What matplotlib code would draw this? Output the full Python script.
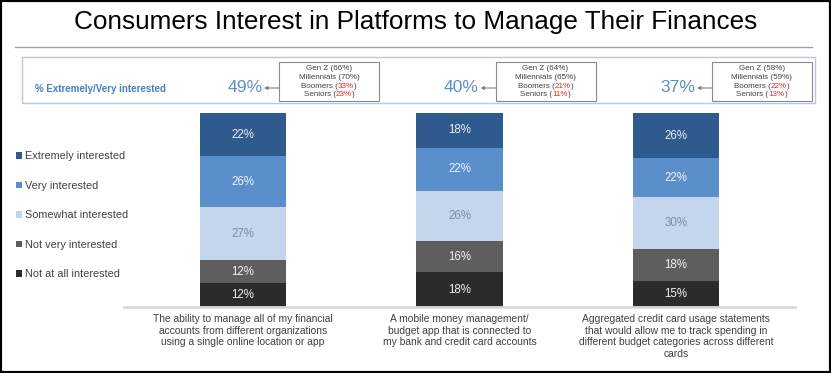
import numpy as np
import matplotlib
matplotlib.use("Agg")
import matplotlib.pyplot as plt
from matplotlib import font_manager
from matplotlib.patches import Rectangle

categories = [
    "The ability to manage all of my financial\naccounts from different organizations\nusing a single online location or app",
    "A mobile money management/\nbudget app that is connected to\nmy bank and credit card accounts",
    "Aggregated credit card usage statements\nthat would allow me to track spending in\ndifferent budget categories across different\ncards",
]
levels = ["Extremely interested", "Very interested", "Somewhat interested",
          "Not very interested", "Not at all interested"]
extremely = [22, 18, 26]
very = [26, 22, 22]
somewhat = [27, 26, 30]
not_very = [12, 16, 18]
not_at_all = [12, 18, 15]

top2 = [49, 40, 37]
gen_z = [66, 64, 58]
millennials = [70, 65, 59]
boomers = [33, 21, 22]
seniors = [23, 11, 13]

plt.rcParams['font.family'] = ['Liberation Sans', 'DejaVu Sans']
names = {f.name for f in font_manager.fontManager.ttflist}
title_font = 'Liberation Sans Narrow' if 'Liberation Sans Narrow' in names else 'Liberation Sans'

W, H = 831, 373
fig = plt.figure(figsize=(W / 100, H / 100), dpi=100)

# bars
ax = fig.add_axes([124 / W, (H - 307) / H, 671 / W, 194 / H])
x = np.arange(len(categories))
stack = [
    (not_at_all, levels[4], '#2b2b2b', '#f2f2f2'),
    (not_very, levels[3], '#5e5e5e', '#f2f2f2'),
    (somewhat, levels[2], '#c4d6eb', '#7d8ca3'),
    (very, levels[1], '#5b8fcb', '#eef4fc'),
    (extremely, levels[0], '#2e5a8e', '#e8f0fa'),
]
totals = np.sum([np.array(s[0]) for s in stack], axis=0)
bottom = np.zeros(len(x))
handles = []
for vals, label, color, tcolor in stack:
    frac = np.array(vals) / totals
    bars = ax.bar(x, frac, 0.4, bottom=bottom, color=color, label=label)
    ax.bar_label(bars, labels=[f"{v}%" for v in vals], label_type='center',
                 color=tcolor, fontsize=8.3)
    handles.append(bars)
    bottom += frac

ax.set_xlim(-0.55, 2.55)
ax.set_ylim(0, 1)
for s in ['top', 'left', 'right']:
    ax.spines[s].set_visible(False)
ax.spines['bottom'].set_color('#d9d9d9')
ax.spines['bottom'].set_linewidth(2)
ax.set_yticks([])
ax.set_xticks(x)
ax.set_xticklabels(categories, fontsize=7.4, color='#404040', linespacing=1.2)
ax.tick_params(axis='x', length=0, pad=5)

fig.legend(handles[::-1], levels, loc='upper left',
           bbox_to_anchor=(11 / W, 1 - 146 / H), frameon=False, fontsize=7.8,
           handlelength=0.55, handleheight=0.55, handletextpad=0.2,
           labelspacing=1.8, borderpad=0, labelcolor='#404040')

fig.text(0.5, 1 - 22 / H, "Consumers Interest in Platforms to Manage Their Finances",
         ha='center', va='center', fontsize=18.8, family=title_font, color='black')

# overlay in pixel coords for header box
ov = fig.add_axes([0, 0, 1, 1])
ov.set_xlim(0, W)
ov.set_ylim(H, 0)
ov.axis('off')
ov.plot([15, 812], [47, 47], color='#a0a0a0', lw=1)
ov.add_patch(Rectangle((22, 57), 793, 46, fill=False, ec='#b9c9d9', lw=1))
ov.text(35, 89, "% Extremely/Very interested", fontsize=7.0, weight='bold',
        color='#4a7ebb', va='center')

renderer = fig.canvas.get_renderer()


def text_width(s, size):
    t = ov.text(0, 0, s, fontsize=size)
    w = t.get_window_extent(renderer).width
    t.remove()
    return w


def colored_line(xc, y, parts, size):
    full = "".join(s for s, _ in parts)
    x0 = xc - text_width(full, size) / 2
    prefix = ""
    for s, c in parts:
        off = text_width(prefix, size) if prefix else 0
        ov.text(x0 + off, y, s, color=c, va='center', ha='left', fontsize=size)
        prefix += s


grey = '#404040'
red = '#e02b2b'
for i in range(len(x)):
    px = ax.transData.transform((x[i], 0))[0]
    ov.text(px + 2, 88, f"{top2[i]}%", ha='center', va='center',
            fontsize=12.6, color='#5b8fc9')
    left = px + 36
    ov.add_patch(Rectangle((left, 62), 100, 39, facecolor='white',
                           ec='#8a8a8a', lw=0.8))
    ov.annotate('', xy=(px + 21, 88), xytext=(left, 88),
                arrowprops=dict(arrowstyle='-|>', color='#7f7f7f', lw=0.8,
                                mutation_scale=5, shrinkA=0, shrinkB=0))
    xc = left + 50
    colored_line(xc, 69, [(f"Gen Z ({gen_z[i]}%)", grey)], 5.8)
    colored_line(xc, 77.5, [(f"Millennials ({millennials[i]}%)", grey)], 5.8)
    colored_line(xc, 86, [("Boomers (", grey), (f"{boomers[i]}%", red), (")", grey)], 5.8)
    colored_line(xc, 94.5, [("Seniors (", grey), (f"{seniors[i]}%", red), (")", grey)], 5.8)

fig.patches.append(Rectangle((0, 0), 1, 1, transform=fig.transFigure,
                             fill=False, ec='black', lw=3))

fig.savefig("out.png", dpi=100)
